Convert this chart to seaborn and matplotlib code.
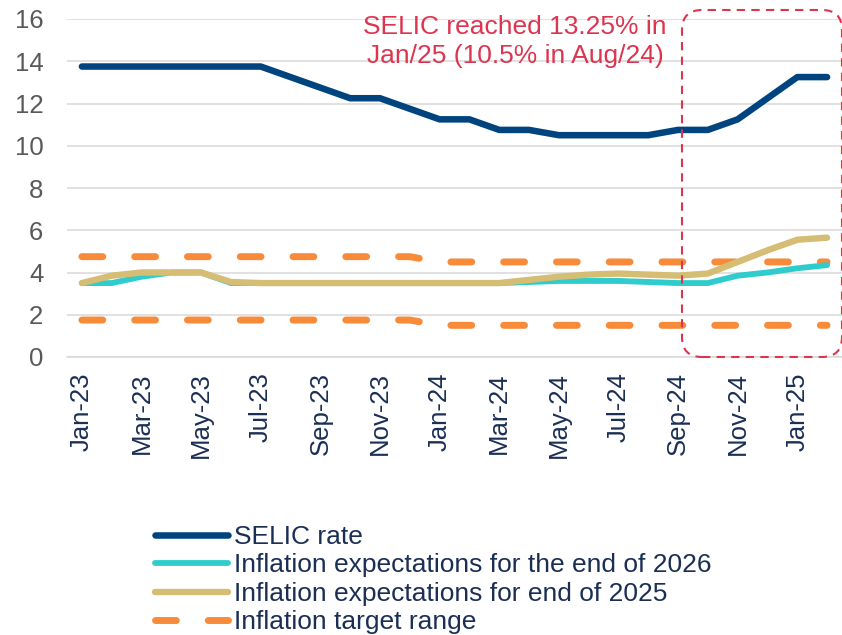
import numpy as np
import pandas as pd
import matplotlib
matplotlib.use("Agg")
import matplotlib.pyplot as plt
from matplotlib.patches import FancyBboxPatch
import seaborn as sns

months = ["Jan-23", "Feb-23", "Mar-23", "Apr-23", "May-23", "Jun-23", "Jul-23", "Aug-23",
          "Sep-23", "Oct-23", "Nov-23", "Dec-23", "Jan-24", "Feb-24", "Mar-24", "Apr-24",
          "May-24", "Jun-24", "Jul-24", "Aug-24", "Sep-24", "Oct-24", "Nov-24", "Dec-24",
          "Jan-25", "Feb-25"]
selic = [13.75, 13.75, 13.75, 13.75, 13.75, 13.75, 13.75, 13.25, 12.75, 12.25, 12.25, 11.75,
         11.25, 11.25, 10.75, 10.75, 10.5, 10.5, 10.5, 10.5, 10.75, 10.75, 11.25, 12.25,
         13.25, 13.25]
infl_2026 = [3.5, 3.5, 3.8, 4.0, 4.0, 3.5, 3.5, 3.5, 3.5, 3.5, 3.5, 3.5, 3.5, 3.5, 3.5, 3.55,
             3.6, 3.6, 3.6, 3.55, 3.5, 3.5, 3.85, 4.0, 4.2, 4.35]
infl_2025 = [3.5, 3.85, 4.0, 4.0, 4.0, 3.55, 3.5, 3.5, 3.5, 3.5, 3.5, 3.5, 3.5, 3.5, 3.5, 3.65,
             3.8, 3.9, 3.95, 3.9, 3.85, 3.95, 4.5, 5.05, 5.55, 5.65]
target_upper = [4.75] * 12 + [4.5] * 14
target_lower = [1.75] * 12 + [1.5] * 14
tick_labels = months[::2]
annotation = "SELIC reached 13.25% in\nJan/25 (10.5% in Aug/24)"
series_names = ["SELIC rate", "Inflation expectations for the end of 2026",
                "Inflation expectations for end of 2025", "Inflation target range"]

NAVY = "#00447F"
CYAN = "#2ECCCC"
TAN = "#D6BD74"
ORANGE = "#F78B3A"
RED = "#DC3550"
TEXT_NAVY = "#1B2F55"

sns.set_style("white")
plt.rcParams["font.family"] = ["Liberation Sans", "DejaVu Sans"]

W, H = 842, 635
fig = plt.figure(figsize=(W / 100, H / 100), dpi=100)
ax = fig.add_axes([67 / W, 1 - 357 / H, (842 - 67) / W, (357 - 19) / H])

idx = np.arange(len(months))
df = pd.DataFrame({"idx": idx, "selic": selic, "i26": infl_2026, "i25": infl_2025,
                   "tu": target_upper, "tl": target_lower})

dash_kw = dict(linestyle=(0, (3.0, 4.6)), dash_capstyle="round", linewidth=5.0)
sns.lineplot(data=df, x="idx", y="tu", ax=ax, color=ORANGE, label=series_names[3], **dash_kw)
sns.lineplot(data=df, x="idx", y="tl", ax=ax, color=ORANGE, label="_nolegend_", **dash_kw)
sns.lineplot(data=df, x="idx", y="i26", ax=ax, color=CYAN, linewidth=4.2,
             solid_capstyle="round", label=series_names[1])
sns.lineplot(data=df, x="idx", y="i25", ax=ax, color=TAN, linewidth=4.6,
             solid_capstyle="round", label=series_names[2])
sns.lineplot(data=df, x="idx", y="selic", ax=ax, color=NAVY, linewidth=4.7,
             solid_capstyle="round", label=series_names[0])

ax.set_xlim(-0.5, len(months) - 0.5)
ax.set_ylim(0, 16)
ax.set_yticks(np.arange(0, 17, 2))
ax.set_xticks(idx[::2])
ax.set_xticklabels(tick_labels, rotation=90)
ax.set_xticks(np.arange(-0.5, len(months) - 1, 2), minor=True)
ax.set_xlabel("")
ax.set_ylabel("")

ax.grid(axis="y", color="#D9D9D9", linewidth=1.1)
ax.grid(axis="x", visible=False)
ax.set_axisbelow(True)
for s in ["left", "right", "top"]:
    ax.spines[s].set_visible(False)
ax.spines["bottom"].set_color("#D9D9D9")
ax.spines["bottom"].set_linewidth(1.1)

ax.tick_params(axis="y", length=0, pad=17, labelsize=18.5, labelcolor="#595959")
ax.tick_params(axis="x", which="major", length=0, pad=11, labelsize=18.5, labelcolor=TEXT_NAVY)
ax.tick_params(axis="x", which="minor", length=5, width=1, color="#D9D9D9", direction="out")

# Legend in series order
handles, labels = ax.get_legend_handles_labels()
order = [labels.index(n) for n in series_names]
ax.legend([handles[i] for i in order], [labels[i] for i in order],
          loc="upper left", bbox_to_anchor=(155 / W, 1 - 525 / H),
          bbox_transform=fig.transFigure, frameon=False, fontsize=19,
          handlelength=2.75, handletextpad=0.25, labelspacing=0.17,
          borderaxespad=0, borderpad=0, labelcolor=TEXT_NAVY)

fig.text(515 / W, 1 - 41.5 / H, annotation, ha="center", va="center",
         fontsize=19, color=RED, linespacing=1.25)

box = FancyBboxPatch((6.82, (H - 357) / 100), 1.60, 3.47,
                     boxstyle="round,pad=0,rounding_size=0.2",
                     transform=fig.dpi_scale_trans, fill=False, edgecolor=RED,
                     linewidth=1.5, linestyle=(0, (4, 3)), clip_on=False)
fig.add_artist(box)

fig.savefig("out.png", dpi=100)
